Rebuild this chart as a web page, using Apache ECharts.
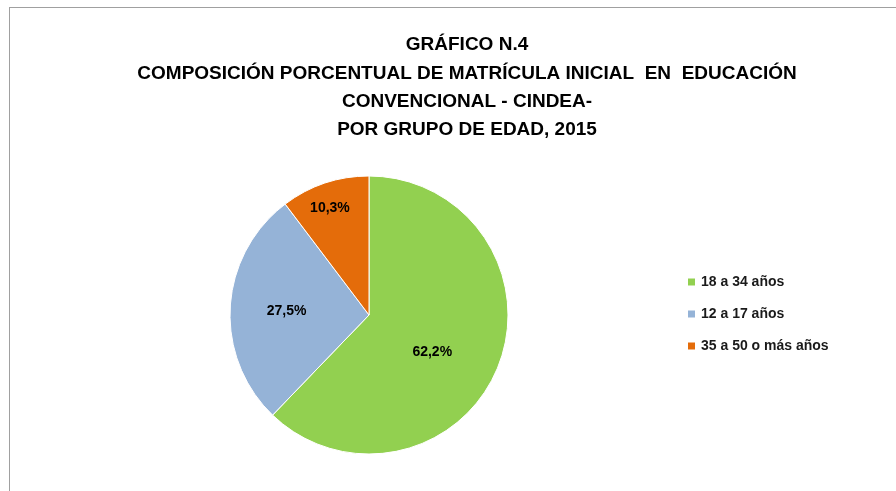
<!DOCTYPE html>
<html>
<head>
<meta charset="utf-8">
<script src="https://cdn.jsdelivr.net/npm/echarts@6/dist/echarts.min.js"></script>
<style>
  html, body { margin: 0; padding: 0; background: #fff; }
  #frame {
    position: absolute; left: 9px; top: 7px; width: 887px; height: 484px;
    border-top: 1px solid #a0a0a0; border-left: 1px solid #a0a0a0;
  }
  #chart { position: absolute; left: 0; top: 0; width: 896px; height: 491px; }
</style>
</head>
<body>
<div id="frame"></div>
<div id="chart"></div>
<script>
// Age groups and their shares (%)
const groups = ['18 a 34 años', '12 a 17 años', '35 a 50 o más años'];
const shares = [62.2, 27.5, 10.3];
const colors = ['#92D050', '#95B3D7', '#E46C0A'];
// small nudges so labels sit where Excel put them
const labelOffsets = [[-4, 10], [-10, 0], [-16, -38]];

const titleLines = [
  'GRÁFICO N.4',
  'COMPOSICIÓN PORCENTUAL DE MATRÍCULA INICIAL  EN  EDUCACIÓN',
  'CONVENCIONAL - CINDEA-',
  'POR GRUPO DE EDAD, 2015'
];

const chart = echarts.init(document.getElementById('chart'));
chart.setOption({
  animation: false,
  title: {
    text: titleLines.join('\n'),
    left: 462,
    top: 26,
    textAlign: 'center',
    textStyle: {
      fontFamily: 'Liberation Sans, sans-serif',
      fontWeight: 'bold',
      fontSize: 19,
      lineHeight: 28.3,
      color: '#000'
    }
  },
  legend: {
    orient: 'vertical',
    left: 681,
    top: 270,
    itemWidth: 9,
    itemHeight: 9,
    itemGap: 18,
    icon: 'rect',
    textStyle: {
      fontFamily: 'Liberation Sans, sans-serif',
      fontWeight: 'bold',
      fontSize: 14,
      color: '#1a1a1a',
      padding: [0, 0, 0, 0]
    },
    data: groups
  },
  series: [
    {
      type: 'pie',
      center: [369, 315],
      radius: 139,
      startAngle: 90,
      clockwise: true,
      itemStyle: { borderColor: '#fff', borderWidth: 1 },
      label: {
        show: true,
        position: 'inside',
        formatter: p => p.value.toFixed(1).replace('.', ',') + '%',
        fontFamily: 'Liberation Sans, sans-serif',
        fontWeight: 'bold',
        fontSize: 14,
        color: '#000'
      },
      labelLine: { show: false },
      data: groups.map((g, i) => ({
        name: g,
        value: shares[i],
        itemStyle: { color: colors[i] },
        label: { offset: labelOffsets[i] }
      }))
    }
  ]
});
</script>
</body>
</html>
